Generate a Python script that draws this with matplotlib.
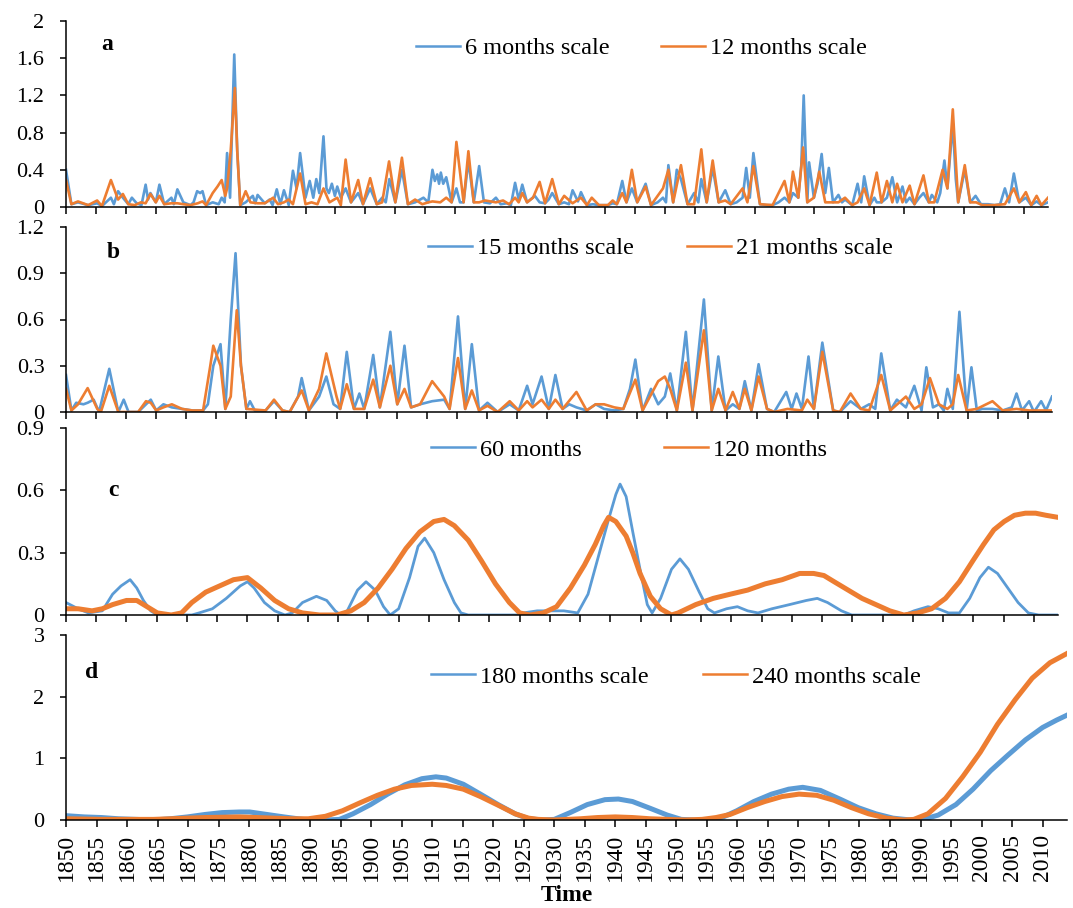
import numpy as np
import matplotlib
matplotlib.use("Agg")
import matplotlib.pyplot as plt
from matplotlib.lines import Line2D
from matplotlib.legend import Legend

plt.rcParams["font.family"] = ["Liberation Serif", "DejaVu Serif"]

BLUE = "#5B9BD5"
ORANGE = "#ED7D31"

# ── data: (year, value) ──────────────────────────────────────────────────
a_labels = ["6 months scale", "12 months scale"]
a_6 = [(1850.0, .40), (1850.9, .03), (1852.0, .05), (1853.7, .02), (1855.2, .04), (1856.0, .01),
       (1857.5, .10), (1858.0, .03), (1858.7, .17), (1859.5, .10), (1860.4, .03), (1861.0, .10),
       (1861.8, .04), (1862.6, .02), (1863.3, .24), (1863.7, .08), (1864.1, .15), (1865.0, .05),
       (1865.6, .24), (1866.4, .03), (1867.6, .10), (1868.0, .03), (1868.6, .19), (1869.6, .05),
       (1870.8, .02), (1871.3, .05), (1871.9, .17), (1872.4, .15), (1872.8, .17), (1873.4, .02),
       (1874.5, .05), (1875.5, .03), (1876.0, .10), (1876.5, .05), (1876.9, .58), (1877.4, .10),
       (1878.1, 1.64), (1878.6, .60), (1879.1, .02), (1880.0, .05), (1881.2, .12), (1881.6, .04),
       (1882.0, .13), (1883.2, .04), (1884.0, .08), (1884.5, .02), (1885.2, .19), (1885.8, .03),
       (1886.4, .18), (1887.2, .02), (1887.9, .39), (1888.5, .20), (1889.1, .58), (1890.0, .10),
       (1890.7, .28), (1891.3, .10), (1891.8, .30), (1892.3, .15), (1892.7, .50), (1893.0, .76),
       (1893.5, .20), (1893.9, .15), (1894.4, .25), (1894.9, .12), (1895.3, .22), (1895.9, .10),
       (1896.7, .20), (1897.6, .05), (1898.2, .10), (1898.8, .15), (1899.6, .03), (1900.8, .20),
       (1901.9, .03), (1902.8, .10), (1903.4, .05), (1904.0, .30), (1905.0, .05), (1906.1, .40),
       (1907.1, .03), (1908.3, .05), (1909.7, .10), (1910.5, .05), (1911.2, .40), (1911.6, .28),
       (1912.0, .35), (1912.3, .25), (1912.6, .37), (1913.0, .25), (1913.5, .32), (1914.4, .05),
       (1915.2, .20), (1915.8, .05), (1916.4, .05), (1917.2, .50), (1918.1, .05), (1919.0, .44),
       (1919.8, .05), (1920.8, .04), (1921.8, .10), (1922.6, .03), (1923.6, .04), (1924.3, .02),
       (1925.0, .26), (1925.6, .08), (1926.2, .24), (1927.0, .05), (1928.3, .12), (1929.1, .05),
       (1930.0, .04), (1930.6, .08), (1931.2, .15), (1932.3, .03), (1933.2, .05), (1934.0, .03),
       (1934.6, .18), (1935.5, .06), (1936.0, .16), (1937.0, .02), (1938.0, .03), (1939.0, .02),
       (1940.5, .02), (1941.3, .04), (1942.0, .03), (1942.9, .28), (1943.6, .05), (1944.5, .20),
       (1945.4, .05), (1946.8, .25), (1947.7, .02), (1948.8, .05), (1949.7, .10), (1950.2, .05),
       (1950.6, .45), (1951.4, .05), (1952.0, .40), (1952.7, .30), (1953.8, .03), (1954.9, .15),
       (1955.6, .05), (1956.1, .30), (1957.0, .05), (1958.0, .42), (1959.0, .05), (1960.1, .18),
       (1961.0, .03), (1962.0, .05), (1963.0, .10), (1963.6, .42), (1964.2, .10), (1964.8, .58),
       (1965.9, .03), (1967.0, .02), (1968.0, .02), (1969.0, .05), (1970.0, .10), (1970.8, .05),
       (1971.4, .15), (1972.3, .10), (1972.8, .45), (1973.2, 1.20), (1973.8, .05), (1974.1, .48),
       (1974.9, .10), (1975.5, .25), (1976.2, .57), (1976.8, .15), (1977.4, .42), (1978.1, .05),
       (1979.0, .13), (1979.6, .05), (1980.1, .08), (1981.3, .02), (1982.2, .25), (1982.8, .05),
       (1983.3, .33), (1984.2, .02), (1985.0, .10), (1985.4, .05), (1986.2, .05), (1987.1, .10),
       (1988.0, .32), (1988.8, .05), (1989.7, .22), (1990.3, .05), (1990.9, .10), (1991.7, .03),
       (1992.5, .10), (1993.2, .15), (1994.1, .05), (1994.6, .13), (1995.5, .05), (1996.0, .15),
       (1996.7, .50), (1997.2, .20), (1998.1, .90), (1998.6, .30), (1999.0, .05), (2000.1, .40),
       (2001.0, .05), (2001.9, .12), (2002.8, .03), (2004.0, .03), (2005.1, .02), (2006.0, .03),
       (2006.8, .20), (2007.5, .05), (2008.3, .36), (2009.2, .05), (2010.3, .10), (2011.2, .02),
       (2012.1, .06), (2012.9, .02), (2014.0, .05)]
a_12 = [(1850.0, .29), (1850.9, .03), (1852.0, .06), (1853.7, .02), (1855.2, .07), (1856.0, .01),
        (1857.5, .29), (1858.7, .08), (1859.5, .14), (1860.4, .03), (1861.5, .02), (1862.5, .05),
        (1863.3, .04), (1864.1, .14), (1865.0, .05), (1865.6, .12), (1866.4, .03), (1867.6, .04),
        (1868.6, .04), (1869.6, .03), (1870.8, .02), (1872.0, .04), (1872.8, .06), (1873.4, .02),
        (1874.5, .15), (1875.3, .22), (1876.0, .29), (1876.6, .12), (1876.9, .20), (1877.5, .60),
        (1878.2, 1.28), (1878.6, .60), (1879.1, .02), (1880.0, .17), (1880.8, .05), (1882.0, .04),
        (1883.2, .04), (1884.6, .10), (1885.4, .03), (1886.4, .05), (1887.2, .08), (1887.9, .03),
        (1889.1, .36), (1890.0, .03), (1891.0, .05), (1892.0, .03), (1893.0, .20), (1894.0, .05),
        (1895.3, .10), (1895.9, .02), (1896.7, .51), (1897.6, .05), (1898.8, .29), (1899.6, .03),
        (1900.8, .31), (1901.9, .03), (1902.8, .05), (1903.95, .49), (1905.0, .05), (1906.1, .53),
        (1907.1, .03), (1908.3, .08), (1909.5, .03), (1910.5, .05), (1911.2, .06), (1912.5, .05),
        (1913.5, .10), (1914.4, .05), (1915.2, .70), (1916.4, .05), (1917.2, .60), (1918.1, .05),
        (1919.0, .05), (1920.0, .07), (1921.8, .05), (1923.0, .07), (1924.0, .03), (1925.0, .10),
        (1925.6, .05), (1926.2, .15), (1927.0, .05), (1928.0, .10), (1929.1, .27), (1930.0, .04),
        (1931.2, .30), (1932.3, .03), (1933.2, .12), (1934.6, .04), (1936.0, .10), (1937.0, .02),
        (1937.8, .10), (1939.0, .02), (1940.5, .02), (1941.3, .07), (1942.0, .03), (1942.9, .15),
        (1943.6, .05), (1944.5, .40), (1945.4, .05), (1946.8, .22), (1947.7, .02), (1949.7, .20),
        (1950.6, .40), (1951.4, .05), (1952.7, .45), (1953.8, .03), (1954.9, .03), (1956.1, .62),
        (1957.0, .05), (1958.0, .50), (1959.0, .05), (1960.1, .07), (1961.0, .03), (1963.0, .20),
        (1963.8, .05), (1964.8, .44), (1965.9, .03), (1968.0, .02), (1970.0, .28), (1970.8, .05),
        (1971.4, .38), (1972.3, .10), (1973.1, .64), (1973.8, .05), (1974.9, .10), (1975.8, .38),
        (1976.8, .05), (1978.1, .05), (1979.0, .05), (1980.1, .10), (1981.3, .02), (1982.2, .05),
        (1983.3, .20), (1984.2, .02), (1985.4, .37), (1986.2, .05), (1987.1, .28), (1988.0, .05),
        (1988.8, .25), (1989.7, .05), (1990.9, .23), (1991.7, .03), (1993.2, .34), (1994.1, .05),
        (1995.0, .05), (1996.4, .40), (1997.2, .20), (1998.1, 1.05), (1999.0, .05), (2000.1, .45),
        (2001.0, .05), (2002.0, .05), (2003.0, .02), (2005.0, .02), (2006.8, .03), (2008.3, .20),
        (2009.2, .05), (2010.3, .16), (2011.2, .02), (2012.1, .12), (2012.9, .02), (2014.0, .10)]

b_labels = ["15 months scale", "21 months scale"]
b_15 = [(1850.0, .24), (1850.9, .01), (1851.7, .06), (1852.9, .05), (1853.6, .06), (1854.6, .08),
        (1855.5, .00), (1857.2, .28), (1858.7, .00), (1859.6, .08), (1860.4, .00), (1862.0, .00),
        (1863.3, .05), (1864.1, .08), (1865.0, .01), (1866.2, .05), (1867.6, .03), (1869.3, .02),
        (1871.0, .01), (1872.8, .01), (1873.6, .05), (1874.5, .30), (1875.7, .44), (1876.5, .02),
        (1877.4, .60), (1878.2, 1.03), (1879.1, .30), (1880.0, .02), (1880.6, .07), (1881.4, .01),
        (1883.2, .01), (1884.6, .07), (1886.0, .01), (1887.2, .00), (1888.6, .10), (1889.2, .22),
        (1890.4, .01), (1892.1, .10), (1893.3, .23), (1894.5, .05), (1895.6, .02), (1896.7, .39),
        (1897.9, .02), (1898.8, .12), (1899.6, .02), (1901.1, .37), (1902.2, .03), (1903.95, .52),
        (1905.1, .05), (1906.3, .43), (1907.4, .03), (1908.9, .05), (1910.9, .07), (1912.9, .08),
        (1913.8, .02), (1915.2, .62), (1916.4, .02), (1917.5, .44), (1918.7, .01), (1920.1, .06),
        (1921.8, .00), (1923.8, .05), (1925.3, .01), (1926.7, .17), (1927.6, .05), (1929.1, .23),
        (1930.3, .02), (1931.4, .24), (1932.6, .02), (1933.7, .05), (1934.9, .03), (1936.6, .01),
        (1938.1, .05), (1939.5, .02), (1941.2, .01), (1942.7, .02), (1943.8, .15), (1944.7, .34),
        (1945.9, .01), (1947.3, .15), (1948.5, .05), (1949.6, .10), (1950.5, .25), (1951.6, .01),
        (1953.1, .52), (1954.2, .01), (1956.1, .73), (1957.4, .01), (1958.5, .36), (1959.7, .01),
        (1960.9, .05), (1962.0, .02), (1962.9, .20), (1964.0, .01), (1965.2, .31), (1966.6, .02),
        (1967.8, .00), (1969.8, .13), (1970.7, .02), (1971.5, .12), (1972.4, .02), (1973.5, .36),
        (1974.4, .02), (1975.8, .45), (1977.6, .01), (1978.7, .00), (1980.5, .07), (1982.2, .02),
        (1983.6, .05), (1984.6, .02), (1985.6, .38), (1987.1, .01), (1988.2, .08), (1989.7, .03),
        (1991.1, .17), (1992.3, .01), (1993.1, .29), (1994.2, .03), (1995.2, .05), (1996.0, .01),
        (1996.6, .15), (1997.5, .02), (1998.6, .65), (1999.8, .01), (2000.6, .29), (2001.5, .01),
        (2002.4, .02), (2004.1, .02), (2005.8, .01), (2007.3, .03), (2008.1, .12), (2009.0, .01),
        (2010.2, .07), (2011.0, .00), (2012.2, .07), (2013.0, .01), (2014.0, .10)]
b_21 = [(1850.0, .15), (1850.9, .01), (1852.0, .05), (1853.6, .155), (1855.2, .02), (1855.8, .00),
        (1857.2, .17), (1858.7, .00), (1862.0, .00), (1863.3, .07), (1864.1, .06), (1865.0, .01),
        (1866.2, .03), (1867.6, .05), (1869.3, .02), (1871.0, .01), (1872.8, .01), (1874.0, .30),
        (1874.5, .43), (1875.7, .30), (1876.5, .02), (1877.4, .10), (1878.4, .66), (1879.1, .30),
        (1880.0, .02), (1883.2, .01), (1884.6, .08), (1886.0, .01), (1887.2, .00), (1889.2, .14),
        (1890.4, .01), (1892.1, .15), (1893.3, .38), (1895.0, .10), (1895.6, .02), (1896.7, .18),
        (1897.9, .02), (1899.6, .02), (1901.1, .21), (1902.2, .03), (1903.95, .30), (1905.1, .05),
        (1906.3, .15), (1907.4, .03), (1908.9, .05), (1910.9, .20), (1912.9, .10), (1913.8, .02),
        (1915.2, .35), (1916.4, .02), (1917.5, .14), (1918.7, .01), (1920.1, .04), (1921.8, .00),
        (1923.8, .07), (1925.3, .01), (1926.7, .07), (1927.6, .03), (1929.1, .08), (1930.3, .02),
        (1931.4, .08), (1932.6, .02), (1934.9, .13), (1936.6, .01), (1938.1, .05), (1939.5, .05),
        (1941.2, .03), (1942.7, .02), (1944.7, .21), (1945.9, .01), (1948.5, .20), (1949.6, .23),
        (1950.5, .15), (1951.6, .01), (1953.1, .32), (1954.2, .01), (1956.1, .53), (1957.4, .01),
        (1958.5, .15), (1959.7, .01), (1960.9, .13), (1962.0, .02), (1962.9, .15), (1964.0, .01),
        (1965.2, .23), (1966.6, .02), (1967.8, .00), (1970.0, .02), (1972.4, .01), (1973.3, .08),
        (1974.4, .02), (1975.8, .39), (1977.6, .01), (1978.7, .00), (1980.5, .12), (1982.2, .02),
        (1983.6, .01), (1985.6, .24), (1987.1, .01), (1989.7, .10), (1991.1, .02), (1992.3, .05),
        (1993.7, .22), (1995.2, .05), (1996.6, .02), (1997.5, .05), (1998.4, .24), (1999.8, .01),
        (2001.5, .02), (2004.1, .07), (2005.8, .01), (2008.1, .02), (2010.2, .01), (2014.0, .01)]

c_labels = ["60 months", "120 months"]
c_60 = [(1850.0, .06), (1852.0, .03), (1853.7, .01), (1856.0, .02), (1857.7, .10), (1859.1, .14),
        (1860.6, .17), (1861.7, .13), (1862.8, .07), (1864.0, .02), (1865.1, .00), (1870.8, .00),
        (1872.0, .01), (1874.2, .03), (1876.5, .08), (1878.8, .14), (1880.0, .16), (1881.1, .13),
        (1882.8, .06), (1884.5, .02), (1886.2, .00), (1887.4, .01), (1889.1, .06), (1891.4, .09),
        (1893.1, .07), (1894.5, .02), (1895.4, .00), (1896.5, .02), (1898.2, .12), (1899.6, .16),
        (1901.1, .12), (1902.5, .04), (1903.6, .00), (1905.0, .03), (1906.8, .18), (1908.2, .33),
        (1909.3, .37), (1910.8, .30), (1912.5, .17), (1914.2, .06), (1915.3, .01), (1916.5, .00),
        (1924.5, .00), (1925.6, .01), (1927.9, .02), (1930.0, .02), (1932.3, .02), (1934.6, .01),
        (1936.3, .10), (1938.0, .28), (1939.7, .46), (1940.9, .58), (1941.6, .63), (1942.6, .57),
        (1943.7, .40), (1944.9, .22), (1946.1, .05), (1946.9, .01), (1948.3, .08), (1950.1, .22),
        (1951.5, .27), (1952.9, .22), (1954.7, .11), (1956.1, .03), (1957.2, .01), (1959.2, .03),
        (1961.0, .04), (1962.7, .02), (1964.4, .01), (1966.7, .03), (1969.6, .05), (1972.4, .07),
        (1974.2, .08), (1975.9, .06), (1978.2, .02), (1979.9, .00), (1988.5, .00), (1990.2, .02),
        (1992.5, .04), (1994.2, .03), (1995.9, .01), (1997.7, .01), (1999.4, .08), (2001.1, .18),
        (2002.5, .23), (2004.0, .20), (2005.7, .13), (2007.4, .06), (2009.1, .01), (2010.8, .00),
        (2014.0, .00)]
c_120 = [(1850.0, .03), (1852.0, .03), (1854.3, .02), (1856.0, .03), (1857.7, .05), (1860.0, .07),
         (1861.7, .07), (1863.4, .04), (1865.1, .01), (1867.4, .00), (1869.1, .01), (1870.8, .06),
         (1873.1, .11), (1875.4, .14), (1877.7, .17), (1880.0, .18), (1882.2, .13), (1884.5, .07),
         (1886.8, .03), (1889.1, .01), (1891.9, .00), (1894.8, .00), (1897.1, .02), (1899.3, .06),
         (1901.6, .13), (1903.9, .22), (1906.2, .32), (1908.5, .40), (1910.8, .45), (1912.5, .46),
         (1914.2, .43), (1916.5, .36), (1918.7, .26), (1921.0, .15), (1923.3, .06), (1925.0, .01),
         (1926.7, .00), (1928.9, .01), (1931.1, .04), (1933.4, .13), (1935.7, .24), (1937.5, .34),
         (1938.9, .43), (1939.7, .47), (1940.9, .45), (1942.6, .38), (1943.7, .30), (1944.9, .20),
         (1946.6, .09), (1948.3, .03), (1950.1, .00), (1951.2, .01), (1954.1, .05), (1957.0, .08),
         (1959.8, .10), (1962.7, .12), (1965.6, .15), (1968.4, .17), (1971.3, .20), (1973.6, .20),
         (1975.3, .19), (1977.0, .16), (1979.3, .12), (1981.6, .08), (1983.9, .05), (1986.2, .02),
         (1988.5, .00), (1990.8, .01), (1993.1, .03), (1995.4, .08), (1997.7, .16), (1999.9, .26),
         (2001.7, .34), (2003.4, .41), (2005.1, .45), (2006.8, .48), (2008.6, .49), (2010.3, .49),
         (2012.0, .48), (2014.0, .47)]

d_labels = ["180 months scale", "240 months scale"]
d_180 = [(1850.0, .07), (1853.0, .05), (1855.8, .04), (1858.6, .02), (1861.5, .01), (1864.3, .00),
         (1867.1, .02), (1869.9, .05), (1872.8, .09), (1875.6, .12), (1878.4, .13), (1880.1, .13),
         (1882.9, .09), (1885.7, .05), (1888.0, .02), (1889.7, .00), (1892.5, .00), (1894.8, .01),
         (1897.0, .10), (1899.9, .25), (1902.7, .42), (1905.5, .57), (1908.3, .67), (1910.6, .70),
         (1912.3, .68), (1915.1, .58), (1917.9, .42), (1920.8, .25), (1923.6, .10), (1925.8, .02),
         (1928.0, .00), (1930.0, .01), (1932.6, .12), (1935.4, .25), (1938.3, .33), (1940.5, .34),
         (1942.8, .30), (1945.7, .19), (1948.5, .08), (1950.8, .01), (1953.1, .00), (1955.9, .01),
         (1957.7, .05), (1959.9, .15), (1962.7, .30), (1965.6, .42), (1968.4, .50), (1970.7, .53),
         (1973.6, .48), (1977.0, .33), (1979.8, .20), (1982.7, .10), (1985.5, .03), (1988.4, .00),
         (1990.1, .00), (1992.9, .08), (1995.8, .25), (1998.6, .50), (2001.5, .80), (2004.3, 1.05),
         (2007.2, 1.30), (2010.0, 1.50), (2012.3, 1.62), (2014.0, 1.70)]
d_240 = [(1850.0, .02), (1855.8, .01), (1861.5, .01), (1864.3, .01), (1867.1, .02), (1869.9, .03),
         (1872.8, .04), (1878.4, .05), (1881.2, .04), (1884.0, .03), (1886.9, .02), (1889.7, .02),
         (1892.5, .06), (1895.3, .15), (1898.2, .28), (1901.0, .40), (1903.8, .50), (1906.6, .56),
         (1910.0, .58), (1912.3, .56), (1915.1, .50), (1917.9, .38), (1920.8, .24), (1923.6, .10),
         (1925.8, .03), (1927.4, .01), (1930.0, .00), (1934.3, .02), (1937.1, .04), (1940.0, .05),
         (1942.8, .04), (1945.7, .02), (1948.5, .01), (1951.4, .00), (1954.2, .01), (1956.5, .04),
         (1958.8, .09), (1961.6, .20), (1964.5, .30), (1967.3, .38), (1970.1, .42), (1973.0, .40),
         (1975.8, .32), (1978.7, .20), (1981.5, .10), (1984.4, .03), (1987.2, .00), (1988.9, .01),
         (1991.2, .10), (1994.1, .35), (1996.9, .70), (1999.8, 1.10), (2002.6, 1.55), (2005.5, 1.95),
         (2008.3, 2.30), (2011.2, 2.55), (2014.0, 2.70)]

year_ticks = list(range(1850, 2011, 5))

# ── layout (pixel boxes measured on the reference) ───────────────────────
W, H = 1073, 908
fig = plt.figure(figsize=(W / 100, H / 100), dpi=100)

panels = [
    # letter, series, labels, ylim top, yticks, ytick labels, box (l, r, top, bottom) px,
    # letter pos px, legend y px, legend x of each entry px, linewidths
    ("a", (a_6, a_12), a_labels, 2.0, [0, .4, .8, 1.2, 1.6, 2], ["0", "0.4", "0.8", "1.2", "1.6", "2"],
     (66, 1048, 21, 207), (107, 45), 48, (416, 661), (1.9, 1.9)),
    ("b", (b_15, b_21), b_labels, 1.2, [0, .3, .6, .9, 1.2], ["0", "0.3", "0.6", "0.9", "1.2"],
     (66, 1052, 227, 412), (113, 253), 248, (428, 687), (1.9, 1.9)),
    ("c", (c_60, c_120), c_labels, 0.9, [0, .3, .6, .9], ["0", "0.3", "0.6", "0.9"],
     (66, 1058, 428, 615), (113, 490), 450, (431, 664), (2.0, 3.6)),
    ("d", (d_180, d_240), d_labels, 3.0, [0, 1, 2, 3], ["0", "1", "2", "3"],
     (66, 1067, 635, 820), (92, 673), 677, (431, 703), (3.6, 3.6)),
]

for letter, series, labels, ytop, yt, ytl, box, lpos, leg_y, leg_x, lws in panels:
    l, r, t, b = box
    ax = fig.add_axes([l / W, 1 - b / H, (r - l) / W, (b - t) / H])
    for pts, col, lw in zip(series, (BLUE, ORANGE), lws):
        x, y = zip(*pts)
        ax.plot(x, y, color=col, lw=lw, solid_joinstyle="round")
    ax.set_xlim(1850, 2014)
    ax.set_ylim(0, ytop)
    ax.set_yticks(yt)
    ax.set_yticklabels(ytl)
    ax.set_xticks(year_ticks)
    for s in ("top", "right"):
        ax.spines[s].set_visible(False)
    for s in ("left", "bottom"):
        ax.spines[s].set_linewidth(1.1)
    ax.tick_params(axis="y", direction="out", length=4.5, width=1.1, labelsize=16, pad=11)
    ax.tick_params(axis="x", direction="out", length=5, width=1.1, labelsize=17, pad=5)
    if letter == "d":
        ax.set_xticklabels([str(v) for v in year_ticks], rotation=90)
        ax.set_xlabel("Time", fontsize=17, fontweight="bold", labelpad=3)
    else:
        ax.set_xticklabels([])
    fig.text(lpos[0] / W, 1 - lpos[1] / H, letter, fontsize=17, fontweight="bold",
             ha="center", va="center")
    # one legend box per entry so each sits where the reference puts it
    for col, lab, lx in zip((BLUE, ORANGE), labels, leg_x):
        h = Line2D([], [], color=col, lw=1.8)
        leg = Legend(ax, [h], [lab], loc="center left",
                     bbox_to_anchor=(lx / W, 1 - leg_y / H),
                     bbox_transform=fig.transFigure, frameon=False, fontsize=17.5,
                     handlelength=1.8, handletextpad=0.2, borderpad=0, borderaxespad=0)
        ax.add_artist(leg)

fig.savefig("out.png", dpi=100)
